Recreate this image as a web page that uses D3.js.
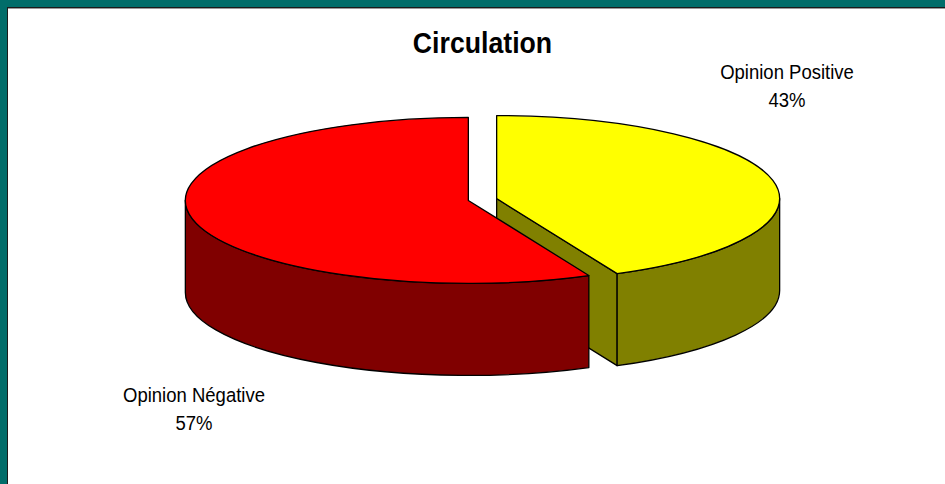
<!DOCTYPE html>
<html>
<head>
<meta charset="utf-8">
<script src="https://cdn.jsdelivr.net/npm/d3@7"></script>
<style>
  html, body { margin: 0; padding: 0; background: #016d6a; }
  svg { display: block; }
</style>
</head>
<body>
<div id="chart"></div>
<script>
// chart data
var title = "Circulation";
var categories = ["Opinion Positive", "Opinion Négative"];
var values = [43, 57];
var topColors = ["#ffff00", "#ff0000"];
var sideColors = ["#808000", "#800000"];

var W = 945, H = 484;

// pie geometry (3D ellipse)
var cx = 482.5, cy = 199.5,
  rx = 283, ry = 83,
  depth = 92,
  explode = 14.5;

var svg = d3.select("#chart").append("svg")
  .attr("width", W)
  .attr("height", H);

// frame
svg.append("rect")
  .attr("x", 0).attr("y", 0)
  .attr("width", W).attr("height", H)
  .attr("fill", "#016d6a");
svg.append("rect")
  .attr("x", 7).attr("y", 7)
  .attr("width", W - 7).attr("height", H - 7)
  .attr("fill", "#1b1b1b");
svg.append("rect")
  .attr("x", 8).attr("y", 8)
  .attr("width", W - 8).attr("height", H - 8)
  .attr("fill", "#ffffff");
svg.append("line")
  .attr("x1", 8).attr("x2", W).attr("y1", 8.5).attr("y2", 8.5)
  .attr("stroke", "#9a9a9a");

// title
svg.append("text")
  .attr("transform", "translate(482.5,53) scale(0.92,1)")
  .attr("text-anchor", "middle")
  .style("font-family", "'Liberation Sans', Arial, sans-serif")
  .style("font-weight", "bold")
  .style("font-size", "29px")
  .text(title);

var pie = d3.pie().sort(null).value(function (d) { return d; });
var arcs = pie(values);

function pt(c, a, dz) {
  return [c[0] + rx * Math.sin(a), c[1] - ry * Math.cos(a) + (dz || 0)];
}

function sliceCenter(d) {
  var mid = (d.startAngle + d.endAngle) / 2;
  return [cx + explode * Math.sin(mid), cy - explode * Math.cos(mid) * ry / rx];
}

function topPath(d) {
  var c = sliceCenter(d);
  var p0 = pt(c, d.startAngle), p1 = pt(c, d.endAngle);
  var large = (d.endAngle - d.startAngle) > Math.PI ? 1 : 0;
  return "M" + c + "L" + p0 + "A" + rx + "," + ry + " 0 " + large + " 1 " + p1 + "Z";
}

function wallPath(d) {
  var c = sliceCenter(d);
  var s = Math.max(d.startAngle, Math.PI / 2),
    e = Math.min(d.endAngle, Math.PI * 3 / 2);
  if (e <= s) return null;
  var large = (e - s) > Math.PI ? 1 : 0;
  var p0 = pt(c, s), p1 = pt(c, e),
    q1 = pt(c, e, depth), q0 = pt(c, s, depth);
  return "M" + p0 + "A" + rx + "," + ry + " 0 " + large + " 1 " + p1 +
    "L" + q1 + "A" + rx + "," + ry + " 0 " + large + " 0 " + q0 + "Z";
}

function cutPath(d) {
  var c = sliceCenter(d);
  var p = pt(c, d.endAngle);
  return "M" + c + "L" + p + "L" + [p[0], p[1] + depth] + "L" + [c[0], c[1] + depth] + "Z";
}

var g = svg.append("g")
  .attr("stroke", "#000")
  .attr("stroke-width", 1.3)
  .attr("stroke-linejoin", "round");

arcs.forEach(function (d, i) {
  // the cut face at the end angle shows only when it looks toward the viewer
  if (d.endAngle > Math.PI / 2 && d.endAngle < Math.PI) {
    g.append("path").attr("d", cutPath(d)).attr("fill", sideColors[i]);
  }
  var w = wallPath(d);
  if (w) g.append("path").attr("d", w).attr("fill", sideColors[i]);
  g.append("path").attr("d", topPath(d)).attr("fill", topColors[i]);
});

// labels
var labelPos = [[787, 79], [194, 402]];
var total = d3.sum(values);
arcs.forEach(function (d, i) {
  var t = svg.append("text")
    .attr("transform", "translate(" + labelPos[i] + ") scale(0.95,1)")
    .attr("text-anchor", "middle")
    .style("font-family", "'Liberation Sans', Arial, sans-serif")
    .style("font-size", "19.5px")
    .attr("fill", "#000");
  t.append("tspan").attr("x", 0).attr("y", 0).text(categories[i]);
  t.append("tspan").attr("x", 0).attr("y", 28)
    .text(Math.round(d.data / total * 100) + "%");
});
</script>
</body>
</html>
